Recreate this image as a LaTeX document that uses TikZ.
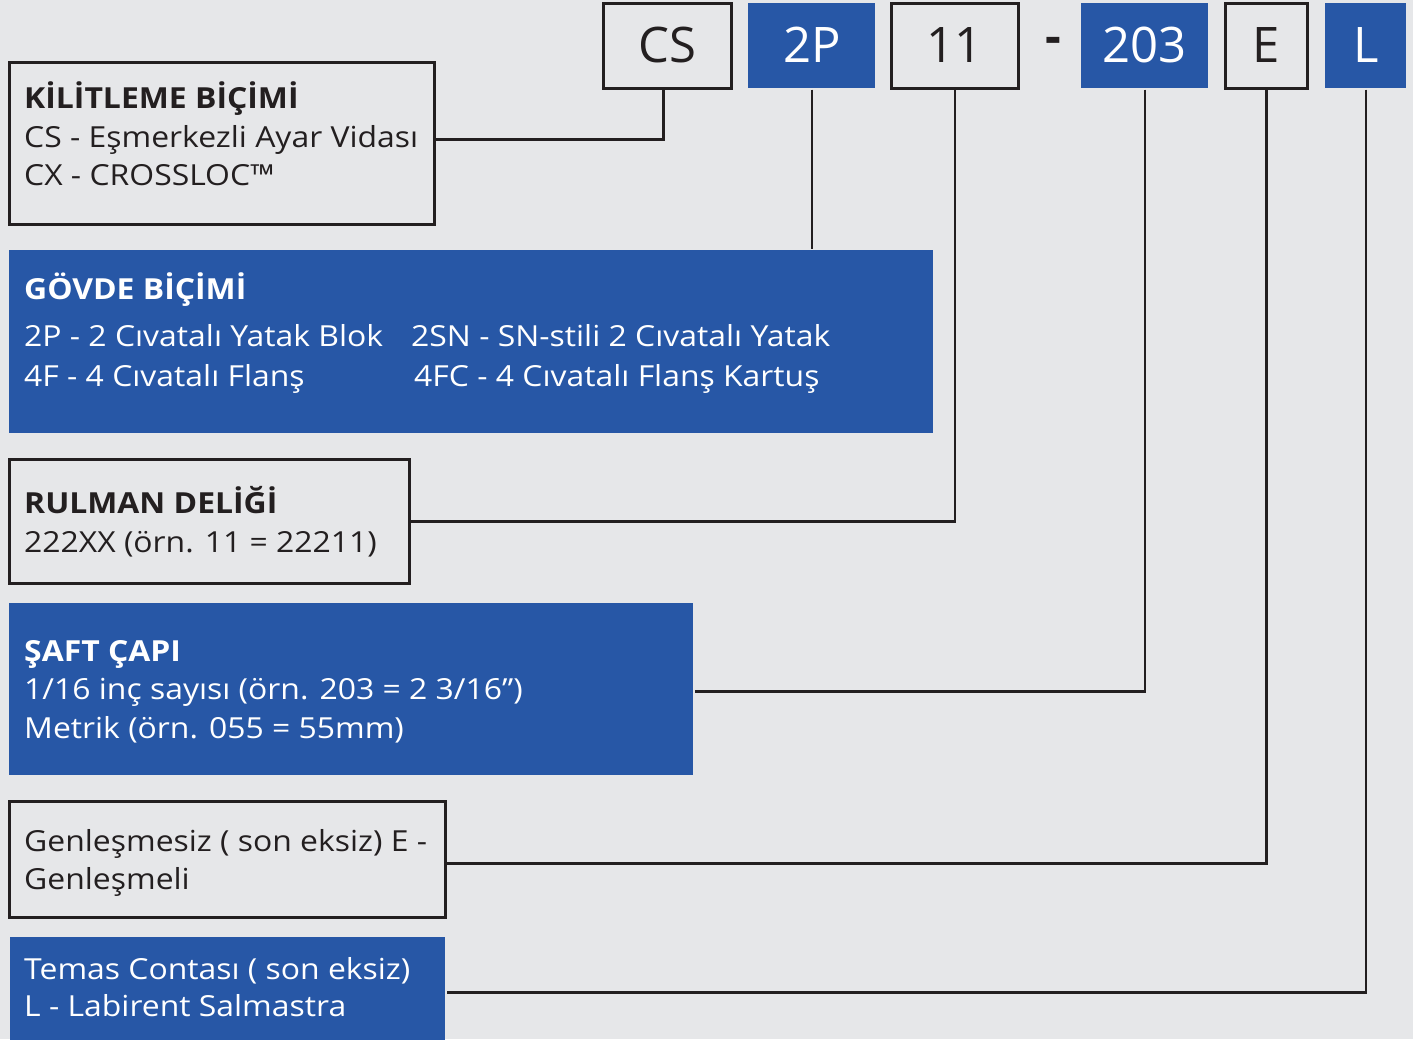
\documentclass[tikz,border=0pt]{standalone}
\usepackage{fontspec}
\setmainfont{Open Sans}
\newfontfamily\infofont{Open Sans}[FakeStretch=1.1]
\usepackage{xcolor}
\usetikzlibrary{positioning}
\definecolor{codeblue}{HTML}{2757A6}
\definecolor{pagegray}{HTML}{E6E7E9}
\definecolor{inkdark}{HTML}{231F20}

\begin{document}
\begin{tikzpicture}[
    x=1pt, y=-1pt,
    codebox/.style={rectangle, draw=inkdark, line width=2.5pt, fill=pagegray,
                 minimum height=85pt, inner sep=0pt, anchor=north west,
                 text=inkdark, font=\fontsize{49}{49}\selectfont},
    codefill/.style={codebox, draw=none, fill=codeblue, text=white},
    infobox/.style={rectangle, draw=inkdark, line width=2.5pt, fill=pagegray,
                 inner sep=0pt, anchor=north west},
    infofill/.style={infobox, draw=none, fill=codeblue},
    infotext/.style={anchor=base west, inner sep=0pt, text=inkdark,
                 font=\infofont\fontsize{29}{38}\selectfont},
    infotitle/.style={infotext, font=\infofont\fontsize{29}{38}\selectfont\bfseries},
    link/.style={draw=inkdark, line width=2.5pt}
]
\useasboundingbox (0,0) rectangle (1413,1039);
\fill[pagegray] (0,0) rectangle (1413,1039);

% code row
\node[codebox, minimum width=128pt] (cs) at (602,2) {\raisebox{2pt}{CS}};
\node[codefill, minimum width=127pt] (p2) at (747,2) {\raisebox{2pt}{2P}};
\node[codebox, minimum width=127pt] (n11) at (890,2) {\raisebox{2pt}{11}};
\node[anchor=base, inner sep=0pt, text=inkdark, font=\fontsize{49}{49}\selectfont\bfseries] (dash) at (1053,53) {-};
\node[codefill, minimum width=127pt] (n203) at (1080,2) {\raisebox{2pt}{203}};
\node[codebox, minimum width=82pt] (e) at (1224,2) {\raisebox{2pt}{E}};
\node[codefill, minimum width=81pt] (l) at (1324,2) {\raisebox{2pt}{L}};

% description boxes
\node[infobox, minimum width=425pt, minimum height=162pt] (lock) at (8,61) {};
\node[infofill, minimum width=924pt, minimum height=183pt] (body) at (8,249) {};
\node[infobox, minimum width=400pt, minimum height=124pt] (bore) at (8,458) {};
\node[infofill, minimum width=684pt, minimum height=172pt] (shaft) at (8,602) {};
\node[infobox, minimum width=436pt, minimum height=116pt] (expan) at (8,800) {};
\node[infofill, minimum width=435pt, minimum height=110pt] (seal) at (9,936) {};

% texts
\node[infotitle] (lockT) at (24,108) {KİLİTLEME BİÇİMİ};
\node[infotext] (lockA) at (24,147) {CS - Eşmerkezli Ayar Vidası};
\node[infotext] (lockB) at (24,185) {CX - CROSSLOC™};

\node[infotitle, text=white] (bodyT) at (24,299) {GÖVDE BİÇİMİ};
\node[infotext, text=white] (bodyA) at (24,346) {2P - 2 Cıvatalı Yatak Blok};
\node[infotext, text=white] (bodyB) at (24,386) {4F - 4 Cıvatalı Flanş};
\node[infotext, text=white] (bodyC) at (411,346) {2SN - SN-stili 2 Cıvatalı Yatak};
\node[infotext, text=white] (bodyD) at (414,386) {4FC - 4 Cıvatalı Flanş Kartuş};

\node[infotitle] (boreT) at (24,513) {RULMAN DELİĞİ};
\node[infotext] (boreA) at (24,552) {222XX (örn. 11 = 22211)};

\node[infotitle, text=white] (shaftT) at (24,661) {ŞAFT ÇAPI};
\node[infotext, text=white] (shaftA) at (24,699) {1/16 inç sayısı (örn. 203 = 2 3/16”)};
\node[infotext, text=white] (shaftB) at (24,738) {Metrik (örn. 055 = 55mm)};

\node[infotext] (expanA) at (24,851) {Genleşmesiz ( son eksiz) E -};
\node[infotext] (expanB) at (24,889) {Genleşmeli};

\node[infotext, text=white] (sealA) at (24,979) {Temas Contası ( son eksiz)};
\node[infotext, text=white] (sealB) at (24,1016) {L - Labirent Salmastra};

% connectors
\draw[link] ([xshift=-4pt]cs.south) |- ([yshift=4pt]lock.east);
\draw[link] (p2.south) -- (p2.south |- body.north);
\draw[link] (n11.south) |- (bore.east);
\draw[link] (n203.south) |- ([yshift=-2pt]shaft.east);
\draw[link] (e.south) |- ([yshift=-4pt]expan.east);
\draw[link] (l.south) |- (seal.east);
\end{tikzpicture}
\end{document}
